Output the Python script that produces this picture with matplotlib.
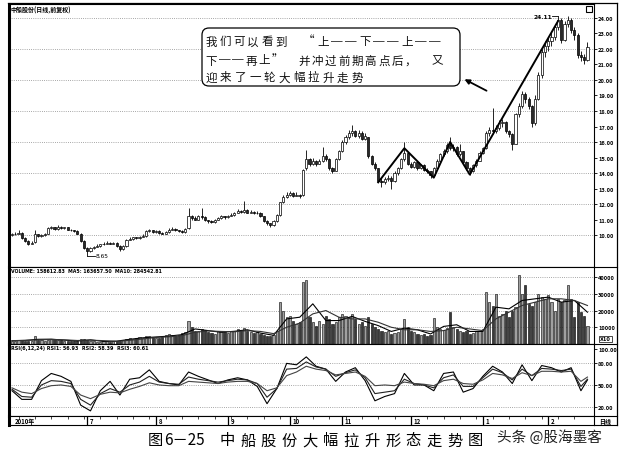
import matplotlib.pyplot as plt
from matplotlib.patches import FancyBboxPatch, FancyArrowPatch, Rectangle
from matplotlib.lines import Line2D

plt.rcParams['font.family'] = ['Noto Sans CJK SC', 'DejaVu Sans']

W, H = 623, 460

# daily candles (price scale on the right)
opens = [10.00, 10.05, 10.10, 10.15, 9.80, 9.60, 9.45, 9.55, 10.05, 9.95,
         10.00, 10.10, 10.45, 10.50, 10.40, 10.55, 10.45, 10.50, 10.35, 10.30,
         10.25, 10.10, 9.60, 9.15, 8.95, 9.15, 9.25, 9.30, 9.40, 9.45,
         9.50, 9.45, 9.50, 9.30, 9.10, 9.30, 9.70, 9.75, 9.85, 9.80,
         9.90, 9.95, 10.25, 10.30, 10.20, 10.25, 10.15, 10.10, 10.20, 10.35,
         10.40, 10.30, 10.25, 10.20, 10.45, 11.20, 11.10, 11.00, 11.20, 11.15,
         10.95, 10.90, 10.85, 11.00, 11.10, 11.20, 11.15, 11.25, 11.30, 11.45,
         11.55, 11.50, 11.60, 11.45, 11.50, 11.40, 11.45, 11.20, 10.90, 10.75,
         10.65, 10.90, 11.30, 12.10, 12.45, 12.60, 12.70, 12.55, 12.60, 12.60,
         14.30, 14.90, 14.60, 14.80, 14.60, 14.75, 15.10, 14.90, 14.30, 14.15,
         14.90, 15.40, 16.00, 16.30, 16.60, 16.70, 16.40, 16.60, 16.20, 16.30,
         15.10, 14.60, 14.30, 13.50, 13.40, 13.60, 13.70, 13.50, 14.00, 14.30,
         14.90, 15.30, 14.60, 14.40, 14.70, 14.30, 14.50, 14.20, 14.10, 13.90,
         14.30, 14.80, 15.20, 15.40, 15.80, 15.60, 15.70, 15.20, 15.40, 14.70,
         14.30, 14.10, 14.50, 14.80, 15.30, 15.60, 16.60, 16.80, 16.70, 16.90,
         17.20, 17.30, 16.70, 16.50, 15.90, 17.80, 18.30, 19.10, 18.80, 18.30,
         17.20, 18.80, 20.30, 21.80, 22.20, 22.50, 22.80, 23.40, 23.90, 22.60,
         23.60, 23.90, 23.20, 22.90, 21.60, 21.50, 21.30]
closes = [10.05, 10.10, 10.15, 9.80, 9.60, 9.45, 9.50, 10.05, 9.95, 10.00,
          10.10, 10.45, 10.50, 10.40, 10.55, 10.45, 10.50, 10.35, 10.30, 10.25,
          10.10, 9.60, 9.15, 8.95, 9.15, 9.25, 9.30, 9.40, 9.45, 9.50,
          9.45, 9.50, 9.30, 9.10, 9.30, 9.70, 9.75, 9.85, 9.80, 9.90,
          9.95, 10.25, 10.30, 10.20, 10.25, 10.15, 10.10, 10.20, 10.35, 10.40,
          10.30, 10.25, 10.20, 10.40, 11.20, 11.10, 11.00, 11.20, 11.15, 10.95,
          10.90, 10.85, 11.00, 11.10, 11.20, 11.15, 11.25, 11.30, 11.45, 11.55,
          11.50, 11.60, 11.45, 11.50, 11.40, 11.45, 11.20, 10.90, 10.75, 10.65,
          10.90, 11.30, 12.10, 12.45, 12.60, 12.70, 12.55, 12.60, 12.55, 14.20,
          14.90, 14.60, 14.80, 14.60, 14.75, 15.10, 14.90, 14.30, 14.15, 14.90,
          15.40, 16.00, 16.30, 16.60, 16.70, 16.40, 16.60, 16.20, 16.40, 15.10,
          14.60, 14.30, 13.50, 13.40, 13.60, 13.70, 13.50, 14.00, 14.30, 14.90,
          15.30, 14.60, 14.40, 14.70, 14.30, 14.50, 14.20, 14.10, 13.90, 14.30,
          14.80, 15.20, 15.40, 15.80, 15.60, 15.70, 15.20, 15.40, 14.70, 14.30,
          14.10, 14.50, 14.80, 15.30, 15.60, 16.60, 16.80, 16.70, 16.90, 17.20,
          17.30, 16.70, 16.50, 15.90, 17.80, 18.30, 19.10, 18.80, 18.30, 17.20,
          18.80, 20.30, 21.80, 22.20, 22.50, 22.80, 23.40, 23.90, 22.60, 23.60,
          23.90, 23.20, 22.90, 21.60, 21.50, 21.30, 22.10]
highs = [10.15, 10.20, 10.30, 10.20, 9.85, 9.65, 9.60, 10.30, 10.10, 10.05,
         10.15, 10.55, 10.60, 10.55, 10.65, 10.60, 10.55, 10.55, 10.40, 10.35,
         10.30, 10.15, 9.65, 9.20, 9.20, 9.30, 9.40, 9.45, 9.55, 9.60,
         9.55, 9.55, 9.55, 9.35, 9.35, 9.75, 9.85, 9.90, 9.90, 9.95,
         10.05, 10.35, 10.40, 10.35, 10.35, 10.30, 10.20, 10.25, 10.45, 10.50,
         10.45, 10.35, 10.30, 10.45, 11.75, 11.30, 11.20, 11.30, 11.75, 11.20,
         11.00, 10.95, 11.05, 11.15, 11.30, 11.25, 11.30, 11.40, 11.50, 11.65,
         11.60, 12.20, 11.65, 11.60, 11.55, 11.55, 11.50, 11.25, 10.95, 10.80,
         10.95, 11.35, 12.15, 12.60, 12.75, 12.85, 12.75, 12.80, 12.65, 14.25,
         15.50, 15.00, 14.95, 14.85, 14.90, 15.70, 15.20, 14.95, 14.40, 15.00,
         15.50, 16.10, 16.45, 16.80, 17.10, 16.80, 16.75, 16.70, 16.55, 16.35,
         15.15, 14.70, 14.35, 13.65, 13.75, 13.85, 13.80, 14.10, 14.40, 15.00,
         16.00, 15.35, 14.70, 14.80, 14.75, 14.60, 14.55, 14.30, 14.15, 14.40,
         14.90, 15.30, 15.55, 15.95, 16.30, 15.85, 15.75, 15.90, 15.45, 14.80,
         14.40, 14.60, 14.90, 15.40, 15.70, 16.70, 17.00, 18.20, 17.10, 17.40,
         17.50, 17.35, 16.80, 16.60, 17.90, 18.50, 19.30, 19.20, 18.90, 18.40,
         19.00, 20.50, 22.00, 22.50, 22.80, 23.10, 23.60, 24.11, 24.00, 23.80,
         24.10, 24.00, 23.40, 23.00, 21.90, 21.70, 22.45]
lows = [9.95, 10.00, 10.05, 9.75, 9.55, 9.35, 9.40, 9.50, 9.90, 9.90,
        9.95, 10.05, 10.40, 10.35, 10.35, 10.40, 10.40, 10.30, 10.25, 10.20,
        10.05, 9.55, 9.10, 8.65, 8.90, 9.10, 9.20, 9.25, 9.35, 9.40,
        9.40, 9.40, 9.25, 9.00, 9.05, 9.25, 9.65, 9.70, 9.75, 9.75,
        9.85, 9.90, 10.20, 10.15, 10.15, 10.10, 10.05, 10.05, 10.15, 10.30,
        10.25, 10.20, 10.15, 10.15, 10.40, 11.00, 10.95, 10.95, 11.05, 10.90,
        10.80, 10.75, 10.80, 10.95, 11.05, 11.05, 11.10, 11.20, 11.25, 11.40,
        11.40, 11.45, 11.40, 11.40, 11.35, 11.35, 11.15, 10.85, 10.65, 10.55,
        10.60, 10.85, 11.25, 12.05, 12.40, 12.50, 12.45, 12.50, 12.40, 12.55,
        14.20, 14.45, 14.50, 14.45, 14.55, 14.70, 14.80, 14.20, 14.00, 14.10,
        14.85, 15.35, 15.90, 16.20, 16.40, 16.30, 16.25, 16.10, 16.10, 15.00,
        14.50, 14.20, 13.40, 13.10, 13.30, 13.50, 13.00, 13.45, 13.90, 14.25,
        14.80, 14.50, 14.30, 14.35, 14.20, 14.25, 14.10, 14.00, 13.70, 13.85,
        14.25, 14.70, 15.10, 15.30, 15.50, 15.45, 15.10, 15.10, 14.60, 14.20,
        13.90, 14.05, 14.40, 14.75, 15.20, 15.55, 16.40, 16.50, 16.60, 16.80,
        17.00, 16.60, 16.30, 15.50, 15.85, 17.60, 18.20, 18.50, 18.10, 17.00,
        17.10, 18.70, 20.10, 21.50, 21.90, 22.20, 22.60, 23.20, 22.40, 22.50,
        23.40, 23.00, 22.60, 21.40, 21.20, 21.00, 21.20]
volumes = [2000, 1800, 2200, 2500, 2000, 1800, 1500, 5000, 2500, 2200,
           2000, 2400, 3000, 2800, 2600, 2200, 2000, 1800, 1600, 1500,
           1700, 2800, 3000, 2600, 1800, 1500, 1400, 1300, 1500, 1600,
           1400, 1500, 1800, 2000, 2200, 3000, 3500, 3200, 3800, 4200,
           3600, 4500, 5000, 4200, 3800, 3500, 4000, 5200, 6000, 5500,
           4800, 5200, 6500, 7000, 14000, 10000, 8000, 7500, 9000, 8500,
           7000, 6500, 6000, 7500, 8000, 7000, 6500, 7500, 8000, 9000,
           8500, 9500, 8000, 7000, 6500, 7000, 6000, 5500, 5000, 4500,
           5500, 8000, 25000, 20000, 16000, 17000, 14000, 12000, 13000, 37000,
           38000, 16000, 13000, 11000, 14000, 12000, 17000, 15000, 12000, 13000,
           16000, 18000, 17000, 16000, 18000, 15000, 12000, 13000, 11000, 16000,
           12000, 10000, 9000, 8000, 7000, 7500, 6000, 6500, 7000, 9000,
           15000, 10000, 8000, 7000, 6000, 5500, 6000, 5000, 5500, 15500,
           10000, 9000, 8500, 9500, 19000, 10000, 9000, 8000, 7000, 7500,
           6000, 6500, 7500, 8000, 9000, 31000, 25000, 23000, 30000, 17000,
           18000, 20000, 16000, 20000, 22000, 41000, 30000, 35000, 24000, 23000,
           25000, 30000, 28000, 27000, 29000, 25000, 20000, 27000, 25000, 26000,
           35000, 27000, 16000, 25000, 19000, 17000, 11000]

# volume average lines, read every 4th day
ma_idx = list(range(0, 177, 4))
vol_ma5 = [2000, 2200, 2800, 2900, 2300, 1800, 2500, 1500, 1700, 2800,
           3700, 4200, 4700, 5600, 9000, 8000, 7000, 7600, 8500, 6500,
           5200, 15000, 16000, 24000, 14000, 14000, 16500, 13500, 11000, 7500,
           9500, 8500, 6000, 10500, 11500, 7500, 7500, 22000, 21000, 26000,
           27000, 28000, 25000, 26000, 19000]
vol_ma10 = [2000, 2100, 2400, 2700, 2500, 2100, 2300, 2000, 1600, 2200,
            3000, 3900, 4300, 5000, 7000, 7800, 7500, 7300, 8000, 7500,
            6200, 10000, 12500, 18000, 20000, 16000, 15000, 15000, 13000, 10000,
            8500, 8500, 7500, 8000, 10000, 9000, 8000, 15000, 19000, 23000,
            25000, 27000, 27000, 26000, 23000]

# RSI lines, read every 3rd day
rsi_idx = list(range(0, 175, 3)) + [176]
rsi6 = [42, 30, 30, 56, 66, 62, 55, 22, 14, 42, 55, 36, 58, 60, 71, 55, 52, 50, 68, 62,
        57, 52, 57, 60, 57, 48, 24, 45, 80, 78, 89, 76, 72, 55, 68, 74, 56, 28, 34, 38,
        66, 50, 50, 42, 66, 68, 40, 45, 62, 76, 68, 52, 78, 56, 77, 74, 68, 74, 42, 57]
rsi12 = [44, 34, 33, 50, 56, 55, 52, 30, 22, 38, 45, 40, 50, 54, 62, 54, 52, 51, 61, 58,
         56, 54, 56, 58, 57, 52, 33, 45, 72, 73, 82, 75, 72, 62, 67, 71, 60, 38, 40, 42,
         58, 52, 50, 46, 60, 64, 48, 48, 60, 72, 67, 57, 72, 63, 73, 72, 70, 72, 48, 58]
rsi24 = [46, 40, 38, 45, 49, 50, 48, 36, 31, 37, 40, 39, 44, 48, 53, 50, 49, 49, 55, 54,
         53, 52, 54, 55, 55, 52, 42, 46, 63, 68, 76, 72, 70, 64, 66, 68, 62, 49, 50, 49,
         54, 52, 51, 49, 56, 58, 52, 51, 57, 66, 64, 59, 67, 63, 69, 69, 68, 69, 55, 61]

# zig-zag trend line drawn over the candles
trend_idx = [112, 120, 129, 134, 140, 167]
trend_price = [13.4, 15.6, 13.7, 16.0, 13.9, 23.8]

month_idx = [0, 23, 44, 66, 85, 101, 122, 144, 164]
month_labels = ['2010年', '7', '8', '9', '10', '11', '12', '1', '2']
price_ticks = [10, 11, 12, 13, 14, 15, 16, 17, 18, 19, 20, 21, 22, 23, 24]
vol_ticks = [10000, 20000, 30000, 40000]
rsi_ticks = [20, 50, 80, 100]

title = '中船股份(日线,前复权)'
vol_head = 'VOLUME: 158612.83  MA5: 163657.50  MA10: 284542.81'
rsi_head = 'RSI(6,12,24) RSI1: 56.93  RSI2: 58.39  RSI3: 60.61'
note_lines = ['我们可以看到 “上──下──上──',
              '下──再上” 并冲过前期高点后， 又',
              '迎来了一轮大幅拉升走势']
caption = '中船股份大幅拉升形态走势图'


def box(top, bottom, left=9, right=594):
    return [left / W, 1 - bottom / H, (right - left) / W, (bottom - top) / H]


def P(x, y):
    return (x / 100, (H - y) / 100)


fig = plt.figure(figsize=(W / 100, H / 100), dpi=100)
fig.patch.set_facecolor('white')
tr = fig.dpi_scale_trans

ax_p = fig.add_axes(box(5, 268))
ax_v = fig.add_axes(box(268, 345))
ax_r = fig.add_axes(box(345, 417))
ax_d = fig.add_axes(box(417, 426))

for ax in (ax_p, ax_v, ax_r, ax_d):
    ax.set_xlim(-0.92, 178)
    ax.set_xticks([])
    for s in ax.spines.values():
        s.set_color('k')
        s.set_linewidth(0.8)
    ax.spines['left'].set_linewidth(2.2)
    ax.yaxis.tick_right()
    ax.tick_params(axis='y', direction='out', length=2, width=0.6, pad=1,
                   labelsize=4.1, colors='k')

idx = list(range(len(closes)))
up = [c >= o for o, c in zip(opens, closes)]
body_bottom = [min(o, c) for o, c in zip(opens, closes)]
body_h = [max(abs(c - o), 0.03) for o, c in zip(opens, closes)]

# price panel
ax_p.set_ylim(7.94, 24.9)
for v in range(10, 25, 2):
    ax_p.axhline(v, color='#8a8a8a', lw=0.6, ls=(0, (1, 1.6)), zorder=0)
ax_p.vlines(idx, lows, highs, color='k', lw=0.6, zorder=2)
ax_p.bar(idx, body_h, bottom=body_bottom, width=0.66,
         color=['white' if u else '#2a2a2a' for u in up],
         edgecolor='k', linewidth=0.5, zorder=3)
ax_p.plot(trend_idx, trend_price, color='k', lw=1.4, zorder=4)
ax_p.set_yticks(price_ticks)
ax_p.set_yticklabels(['%.2f' % v for v in price_ticks], fontweight='bold')
ax_p.text(0.003, 0.995, title, transform=ax_p.transAxes, fontsize=4.3,
          fontweight='bold', va='top', ha='left')
ax_p.plot([23, 25.3], [8.65, 8.65], color='k', lw=0.6)
ax_p.text(25.5, 8.65, '8.65', fontsize=4.2, va='center', ha='left',
          family='DejaVu Sans')
ax_p.plot([165.3, 167], [24.11, 24.11], color='k', lw=0.6)
ax_p.text(165.1, 24.11, '24.11', fontsize=4.2, va='center', ha='right',
          family='DejaVu Sans', fontweight='bold')

# volume panel
ax_v.set_ylim(0, 46000)
for v in vol_ticks:
    ax_v.axhline(v, color='#8a8a8a', lw=0.6, ls=(0, (1, 1.6)), zorder=0)
ax_v.bar(idx, volumes, width=0.66,
         color=['#a0a0a0' if u else '#3a3a3a' for u in up],
         edgecolor='k', linewidth=0.4, zorder=2)
ax_v.plot(ma_idx, vol_ma5, color='k', lw=0.8, zorder=3)
ax_v.plot(ma_idx, vol_ma10, color='#333333', lw=0.8, zorder=3)
ax_v.set_yticks(vol_ticks)
ax_v.set_yticklabels([str(v) for v in vol_ticks], fontweight='bold')
ax_v.text(0.003, 0.99, vol_head, transform=ax_v.transAxes, fontsize=3.4,
          fontweight='bold', va='top', ha='left', family='DejaVu Sans')

# RSI panel
ax_r.set_ylim(6.9, 106.9)
for v in [20, 50, 80]:
    ax_r.axhline(v, color='#8a8a8a', lw=0.6, ls=(0, (1, 1.6)), zorder=0)
ax_r.plot(rsi_idx, rsi6, color='k', lw=0.8)
ax_r.plot(rsi_idx, rsi12, color='#222222', lw=0.8)
ax_r.plot(rsi_idx, rsi24, color='#444444', lw=0.8)
ax_r.set_yticks(rsi_ticks)
ax_r.set_yticklabels(['%.2f' % v for v in rsi_ticks], fontweight='bold')
ax_r.text(0.003, 0.985, rsi_head, transform=ax_r.transAxes, fontsize=3.5,
          fontweight='bold', va='top', ha='left', family='DejaVu Sans')

# date strip
ax_d.set_ylim(0, 1)
ax_d.set_yticks([])
ax_d.vlines(list(range(2, 177, 5)), 0.65, 1, color='k', lw=0.5)
ax_d.vlines(month_idx[1:], 0, 1, color='k', lw=0.9)
for m, lab in zip(month_idx, month_labels):
    ax_d.text(m + 0.8, 0.45, lab, fontsize=4.3, fontweight='bold',
              va='center', ha='left')

# outer frame and right label column
fig.add_artist(Line2D([8 / 100, 617 / 100], [(H - 4) / 100] * 2, transform=tr,
                      color='k', lw=0.9))
fig.add_artist(Line2D([617 / 100] * 2, [(H - 4) / 100, (H - 426) / 100],
                      transform=tr, color='k', lw=0.9))
for yy in (268, 345, 417, 426):
    fig.add_artist(Line2D([594 / 100, 617 / 100], [(H - yy) / 100] * 2,
                          transform=tr, color='k', lw=0.8))
fig.text(605.5 / W, 1 - 421.5 / H, '日线', fontsize=4.3, fontweight='bold',
         ha='center', va='center')
fig.text(600 / W, 1 - 340 / H, 'X10', fontsize=3.6, fontweight='bold',
         ha='left', va='center', family='DejaVu Sans',
         bbox=dict(boxstyle='square,pad=0.15', fc='white', ec='k', lw=0.5))
fig.add_artist(Rectangle(P(586, 13), 0.06, 0.06, transform=tr, fc='white',
                         ec='k', lw=0.8))

# callout box with text and arrow
fig.add_artist(FancyBboxPatch(P(202, 87), 2.58, 0.58,
                              boxstyle='round,pad=0,rounding_size=0.07',
                              transform=tr, fc='white', ec='k', lw=0.9,
                              zorder=5))
line_y = [42, 61, 78]
line_step = [14.0, 13.3, 14.6]
for text_line, yy, step in zip(note_lines, line_y, line_step):
    for k, ch in enumerate(text_line):
        if ch == ' ':
            continue
        fig.text((211 + k * step) / W, 1 - yy / H, ch, fontsize=8.3,
                 ha='center', va='center', color='#111111', zorder=6)
fig.add_artist(FancyArrowPatch(P(489, 93), P(462, 79), transform=tr,
                               arrowstyle='-|>', mutation_scale=7, lw=1.3,
                               color='k', zorder=6))

# caption and watermark
fig.text(155.5 / W, 1 - 441 / H, '图', fontsize=11, ha='center', va='center')
fig.text(164 / W, 1 - 441 / H, '6－25', fontsize=11, ha='left', va='center')
for k, ch in enumerate(caption):
    fig.text((227 + k * 20.7) / W, 1 - 441 / H, ch, fontsize=11,
             ha='center', va='center')
fig.text(497 / W, 1 - 437 / H, '头条 @股海墨客', fontsize=10.5,
         ha='left', va='center', color='#222222')

fig.savefig('out.png', dpi=100)
